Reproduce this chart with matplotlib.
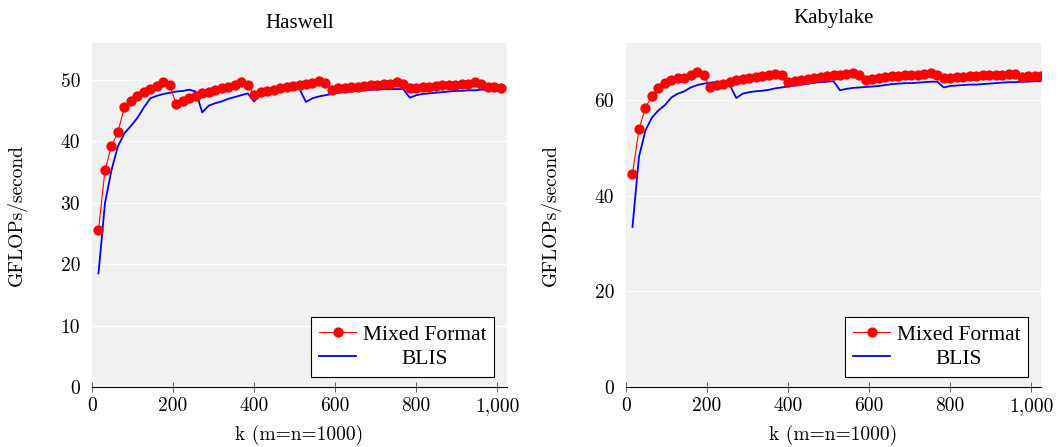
import numpy as np
import matplotlib
matplotlib.use("Agg")
import matplotlib.pyplot as plt
from matplotlib.ticker import FuncFormatter

plt.rcParams['font.family'] = ['Liberation Serif', 'DejaVu Serif']
plt.rcParams['font.size'] = 15
plt.rcParams['axes.unicode_minus'] = False

# ---------------- data ----------------
k_haswell = np.arange(16, 1009, 16)     # 63 points
k_kabylake = np.arange(16, 1025, 16)    # 64 points

haswell_mixed = [
    25.5, 35.3, 39.2, 41.5, 45.6, 46.6, 47.4, 48.0, 48.5, 49.0, 49.6, 49.1,
    46.0, 46.6, 47.0, 47.4, 47.8, 48.1, 48.4, 48.6, 48.9, 49.2, 49.6, 49.2,
    47.6, 48.0, 48.2, 48.4, 48.6, 48.8, 49.0, 49.2, 49.3, 49.5, 49.8, 49.5,
    48.4, 48.6, 48.7, 48.8, 48.9, 49.0, 49.1, 49.2, 49.3, 49.4, 49.6, 49.3,
    48.6, 48.7, 48.8, 48.9, 49.0, 49.1, 49.2, 49.2, 49.3, 49.4, 49.6, 49.4,
    48.8, 48.8, 48.7,
]
haswell_blis = [
    18.5, 29.9, 35.3, 39.2, 41.3, 42.5, 43.8, 45.5, 47.0, 47.4, 47.7, 47.9,
    48.1, 48.2, 48.4, 48.1, 44.7, 45.8, 46.2, 46.5, 46.9, 47.2, 47.5, 47.8,
    46.5, 47.6, 47.9, 48.1, 48.3, 48.4, 48.5, 48.5, 46.4, 47.0, 47.3, 47.5,
    47.7, 47.9, 48.0, 48.1, 48.2, 48.3, 48.4, 48.4, 48.5, 48.5, 48.5, 48.5,
    47.1, 47.5, 47.7, 47.8, 47.9, 48.0, 48.1, 48.2, 48.2, 48.3, 48.3, 48.4,
    48.4, 48.4, 48.4,
]
kabylake_mixed = [
    44.6, 53.9, 58.5, 60.9, 62.6, 63.6, 64.3, 64.7, 64.7, 65.2, 65.9, 65.2,
    62.7, 63.2, 63.5, 63.9, 64.2, 64.5, 64.7, 64.8, 65.0, 65.2, 65.6, 65.2,
    63.8, 64.0, 64.3, 64.4, 64.7, 64.9, 65.1, 65.2, 65.4, 65.6, 65.8, 65.4,
    64.3, 64.5, 64.7, 64.8, 65.0, 65.1, 65.2, 65.3, 65.4, 65.5, 65.8, 65.4,
    64.6, 64.7, 64.8, 64.9, 65.0, 65.1, 65.2, 65.3, 65.3, 65.4, 65.6, 65.5,
    64.9, 65.0, 65.1, 65.0,
]
kabylake_blis = [
    33.5, 48.2, 53.7, 56.4, 57.9, 59.0, 60.6, 61.4, 61.9, 62.7, 63.2, 63.5,
    63.7, 63.8, 63.8, 63.2, 60.5, 61.4, 61.7, 61.9, 62.0, 62.2, 62.5, 62.7,
    62.9, 63.1, 63.3, 63.5, 63.7, 63.8, 63.9, 64.0, 62.1, 62.4, 62.6, 62.7,
    62.8, 62.9, 63.0, 63.2, 63.4, 63.5, 63.6, 63.6, 63.7, 63.8, 63.9, 63.9,
    62.7, 63.0, 63.1, 63.2, 63.3, 63.3, 63.4, 63.5, 63.6, 63.7, 63.8, 63.8,
    63.9, 63.9, 64.0, 64.0,
]
titles = ["Haswell", "Kabylake"]
series_labels = ["Mixed Format", "BLIS"]
x_ticks = [0, 200, 400, 600, 800, 1000]
y_ticks_haswell = [0, 10, 20, 30, 40, 50]
y_ticks_kabylake = [0, 20, 40, 60]
x_label = "k (m=n=1000)"
y_label = "GFLOPs/second"

# ---------------- figure ----------------
W, H = 1058, 447
fig = plt.figure(figsize=(W / 100, H / 100), dpi=100)

def fx(px):
    return px / W

def fy(py):
    return 1 - py / H

CM = ['cmr10', 'DejaVu Serif']
TIMES = ['Liberation Serif', 'DejaVu Serif']

ax_bottom = 387
ax_top = 43
ax_w = 415
axes_specs = [
    (92, k_haswell, haswell_mixed, haswell_blis, y_ticks_haswell, 56, 15),
    (626, k_kabylake, kabylake_mixed, kabylake_blis, y_ticks_kabylake, 72, 20),
]

comma = FuncFormatter(lambda v, p: f"{int(v):,}")

for i, (left, kk, mixed, blis, yt, ymax, tpad_px) in enumerate(axes_specs):
    ax = fig.add_axes([fx(left), fy(ax_bottom), ax_w / W, (ax_bottom - ax_top) / H])
    ax.set_facecolor('#f1f1f1')
    ax.plot(kk, blis, color='#0000ff', lw=1.3, label=series_labels[1], zorder=3)
    ax.plot(kk, mixed, color='#ff0000', lw=0.8, marker='o', markersize=7.4,
            markeredgewidth=0, label=series_labels[0], zorder=4)
    ax.set_xlim(0, 1024)
    ax.set_ylim(0, ymax)
    ax.set_xticks(x_ticks)
    ax.xaxis.set_major_formatter(comma)
    ax.set_yticks(yt)
    for s in ['top', 'right', 'left']:
        ax.spines[s].set_visible(False)
    ax.spines['bottom'].set_color('black')
    ax.spines['bottom'].set_linewidth(0.8)
    ax.grid(axis='y', color='white', lw=1.0)
    ax.set_axisbelow(True)
    ax.tick_params(axis='x', direction='inout', length=6.5, width=0.6,
                   color='#444444', pad=4)
    ax.tick_params(axis='y', length=0, pad=8.5)
    for t in ax.get_xticklabels() + ax.get_yticklabels():
        t.set_fontfamily(CM)
        t.set_fontsize(14)
    ax.set_xlabel(x_label, fontsize=14, family=CM, labelpad=7)
    ax.set_ylabel(y_label, fontsize=14, family=CM)
    ax.yaxis.set_label_coords(-65 / ax_w, 0.5)
    ax.set_title(titles[i], fontsize=15, family=TIMES, pad=tpad_px * 0.72)

    handles, labels = ax.get_legend_handles_labels()
    leg = ax.legend(handles[::-1], labels[::-1], loc='lower right',
                    bbox_to_anchor=(1 - 12.7 / ax_w, 10.3 / (ax_bottom - ax_top)),
                    borderaxespad=0, fancybox=False, framealpha=1,
                    facecolor='white', edgecolor='black',
                    prop={'family': TIMES, 'size': 15.5},
                    handlelength=1.75, handletextpad=0.3, borderpad=0.36,
                    labelspacing=0.2)
    leg.get_frame().set_linewidth(0.8)
    fig.canvas.draw()
    texts = leg.get_texts()
    w0 = texts[0].get_window_extent().width
    w1 = texts[1].get_window_extent().width
    texts[1].set_x((w0 - w1) / 2)

fig.savefig("out.png", dpi=100)
